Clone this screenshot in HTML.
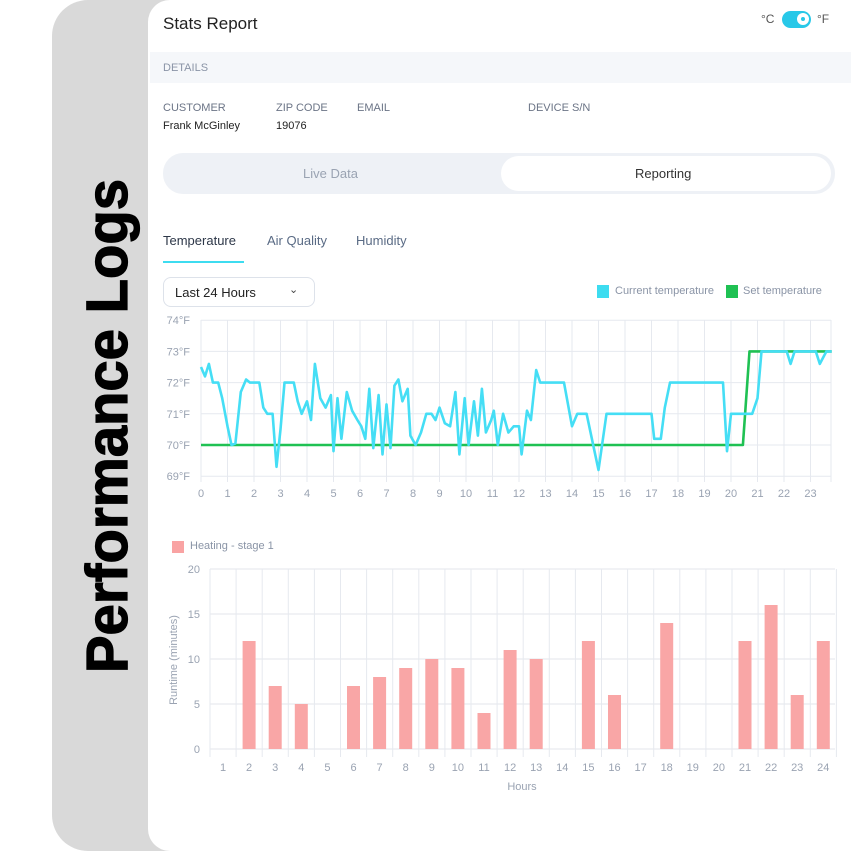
<!DOCTYPE html>
<html><head><meta charset="utf-8"><style>
*{margin:0;padding:0;box-sizing:border-box}
body{width:851px;height:851px;background:#fff;position:relative;overflow:hidden;font-family:"Liberation Sans",sans-serif}
.grey{position:absolute;left:52px;top:0;width:820px;height:851px;background:#d9d9d9;border-radius:36px}
.card{position:absolute;left:148px;top:0;width:720px;height:851px;background:#fff;border-radius:22px 0 0 22px}
.t{position:absolute;white-space:nowrap}
</style></head><body>
<div class="grey"></div>
<div class="card"></div>
<svg width="851" height="851" style="position:absolute;left:0;top:0">
<text x="0" y="0" transform="translate(127,673) rotate(-90)" font-family="Liberation Sans" font-weight="bold" font-size="58" fill="#000" stroke="#000" stroke-width="1.2" textLength="494" lengthAdjust="spacingAndGlyphs">Performance Logs</text>
</svg>
<div class="t" style="left:163px;top:14px;font-size:17px;color:#222">Stats Report</div>
<div class="t" style="left:761px;top:12px;font-size:12px;color:#555">°C</div>
<div style="position:absolute;left:782px;top:11px;width:29px;height:17px;border-radius:9px;background:#28c8e8"></div>
<div style="position:absolute;left:797px;top:13px;width:12px;height:12px;border-radius:6px;background:#fff"></div>
<div style="position:absolute;left:801px;top:17px;width:4px;height:4px;border-radius:2px;background:#28c8e8"></div>
<div class="t" style="left:817px;top:12px;font-size:12px;color:#555">°F</div>
<div style="position:absolute;left:150px;top:52px;width:701px;height:31px;background:#f5f7fa"></div>
<div class="t" style="left:163px;top:62px;font-size:11px;color:#8a94a6">DETAILS</div>
<div class="t" style="left:163px;top:102px;font-size:11px;color:#6b7486">CUSTOMER</div>
<div class="t" style="left:276px;top:102px;font-size:11px;color:#6b7486">ZIP CODE</div>
<div class="t" style="left:357px;top:102px;font-size:11px;color:#6b7486">EMAIL</div>
<div class="t" style="left:528px;top:102px;font-size:11px;color:#6b7486">DEVICE S/N</div>
<div class="t" style="left:163px;top:120px;font-size:11px;color:#222">Frank McGinley</div>
<div class="t" style="left:276px;top:120px;font-size:11px;color:#222">19076</div>
<div style="position:absolute;left:163px;top:153px;width:672px;height:41px;border-radius:20px;background:#eef1f6"></div>
<div style="position:absolute;left:501px;top:156px;width:330px;height:35px;border-radius:18px;background:#fff"></div>
<div class="t" style="left:303px;top:166px;font-size:13px;color:#9aa3b2">Live Data</div>
<div class="t" style="left:635px;top:166px;font-size:13px;color:#333">Reporting</div>
<div class="t" style="left:163px;top:233px;font-size:13px;color:#2d3748">Temperature</div>
<div class="t" style="left:267px;top:233px;font-size:13px;color:#5a6b85">Air Quality</div>
<div class="t" style="left:356px;top:233px;font-size:13px;color:#5a6b85">Humidity</div>
<div style="position:absolute;left:163px;top:261px;width:81px;height:2px;background:#3ddcf0"></div>
<div style="position:absolute;left:163px;top:277px;width:152px;height:30px;border:1px solid #dde2ea;border-radius:8px"></div>
<div class="t" style="left:175px;top:285px;font-size:13px;color:#222">Last 24 Hours</div>
<div class="t" style="left:289px;top:283px;font-size:11px;color:#444">&#8964;</div>
<div style="position:absolute;left:597px;top:285px;width:12px;height:13px;background:#3ddcf0"></div>
<div class="t" style="left:615px;top:285px;font-size:11px;color:#8a94a6">Current temperature</div>
<div style="position:absolute;left:726px;top:285px;width:12px;height:13px;background:#1fc153"></div>
<div class="t" style="left:743px;top:285px;font-size:11px;color:#8a94a6">Set temperature</div>
<div style="position:absolute;left:172px;top:541px;width:12px;height:12px;background:#f9a3a3"></div>
<div class="t" style="left:190px;top:540px;font-size:11px;color:#8a94a6">Heating - stage 1</div>
<svg id="ch" width="851" height="851" style="position:absolute;left:0;top:0" font-family="Liberation Sans"></svg>
<script>
var s='';
function X(h){return 201+26.5*h}function Y(t){return 445-(t-70)*31.2}
for(var t=69;t<=74;t++){s+='<line x1="201" x2="831" y1="'+Y(t)+'" y2="'+Y(t)+'" stroke="#e6e9ef"/>';
s+='<text x="190" y="'+(Y(t)+4)+'" font-size="11" fill="#9aa3b2" text-anchor="end">'+t+'°F</text>';}
for(var h=0;h<=23;h++){s+='<line x1="'+X(h)+'" x2="'+X(h)+'" y1="320" y2="482" stroke="#e6e9ef"/>';
s+='<text x="'+X(h)+'" y="497" font-size="11" fill="#9aa3b2" text-anchor="middle">'+h+'</text>';}
s+='<line x1="831" x2="831" y1="320" y2="482" stroke="#e6e9ef"/>';
var c=[[0,72.5],[0.15,72.2],[0.3,72.6],[0.45,72],[0.65,72],[0.8,71.5],[1,70.6],[1.15,70],[1.3,70.05],[1.5,71.7],[1.7,72.1],[1.85,72],[2.2,72],[2.35,71.2],[2.5,71],[2.7,71],[2.85,69.3],[3,70.5],[3.15,72],[3.5,72],[3.65,71.4],[3.8,71],[4,71.4],[4.15,70.8],[4.3,72.6],[4.5,71.5],[4.7,71.2],[4.9,71.6],[5.0,69.8],[5.15,71.5],[5.3,70.2],[5.5,71.7],[5.7,71.1],[5.9,70.8],[6.05,70.6],[6.2,70.2],[6.35,71.8],[6.5,69.9],[6.7,71.6],[6.85,69.7],[7,71.3],[7.15,69.9],[7.3,71.9],[7.45,72.1],[7.6,71.4],[7.8,71.8],[7.9,70.3],[8.1,70],[8.3,70.4],[8.5,71],[8.7,71],[8.85,70.8],[9,71.2],[9.2,70.7],[9.4,70.6],[9.6,71.7],[9.75,69.7],[9.95,71.5],[10.1,70],[10.3,71.4],[10.45,70.3],[10.6,71.8],[10.75,70.4],[10.95,70.8],[11.05,71.1],[11.2,70.0],[11.4,71.0],[11.6,70.4],[11.8,70.6],[12,70.6],[12.1,69.7],[12.3,71.1],[12.45,70.8],[12.65,72.4],[12.8,72],[13.7,72],[13.85,71.3],[14.0,70.6],[14.2,71],[14.55,71],[14.85,69.8],[15.0,69.2],[15.3,71],[17.0,71],[17.1,70.2],[17.35,70.2],[17.5,71.2],[17.7,72],[19.7,72],[19.85,69.8],[20,71],[20.8,71],[21,71.5],[21.15,73],[22.1,73],[22.25,72.6],[22.4,73],[23.2,73],[23.35,72.6],[23.6,73],[23.8,73]];
var sp=[[0,70],[20.45,70],[20.7,73],[23.8,73]];
function pl(a,col){return '<polyline fill="none" stroke="'+col+'" stroke-width="2.6" stroke-linejoin="round" points="'+a.map(function(p){return X(p[0]).toFixed(1)+','+Y(p[1]).toFixed(1)}).join(' ')+'"/>'}
s+=pl(sp,'#1fc153')+pl(c,'#45def5');
function BY(v){return 749-9*v}
for(var v=0;v<=20;v+=5){s+='<line x1="210" x2="835" y1="'+BY(v)+'" y2="'+BY(v)+'" stroke="#e3e6eb"/>';
s+='<text x="200" y="'+(BY(v)+4)+'" font-size="11" fill="#9aa3b2" text-anchor="end">'+v+'</text>';}
for(var i=0;i<=24;i++){var gx=210+26.1*i;s+='<line x1="'+gx+'" x2="'+gx+'" y1="569" y2="757" stroke="#e6e9ef"/>';}
var b=[0,12,7,5,0,7,8,9,10,9,4,11,10,0,12,6,0,14,0,0,12,16,6,12];
for(var i=0;i<24;i++){var cx=223+26.1*i;
if(b[i])s+='<rect x="'+(cx-6.5)+'" y="'+BY(b[i])+'" width="13" height="'+(9*b[i])+'" fill="#f9a6a6"/>';
s+='<text x="'+cx+'" y="771" font-size="11" fill="#9aa3b2" text-anchor="middle">'+(i+1)+'</text>';}
s+='<text x="522" y="790" font-size="11" fill="#9aa3b2" text-anchor="middle">Hours</text>';
s+='<text transform="translate(177,660) rotate(-90)" font-size="11" fill="#9aa3b2" text-anchor="middle">Runtime (minutes)</text>';
document.getElementById('ch').innerHTML=s;
</script>
</body></html>
